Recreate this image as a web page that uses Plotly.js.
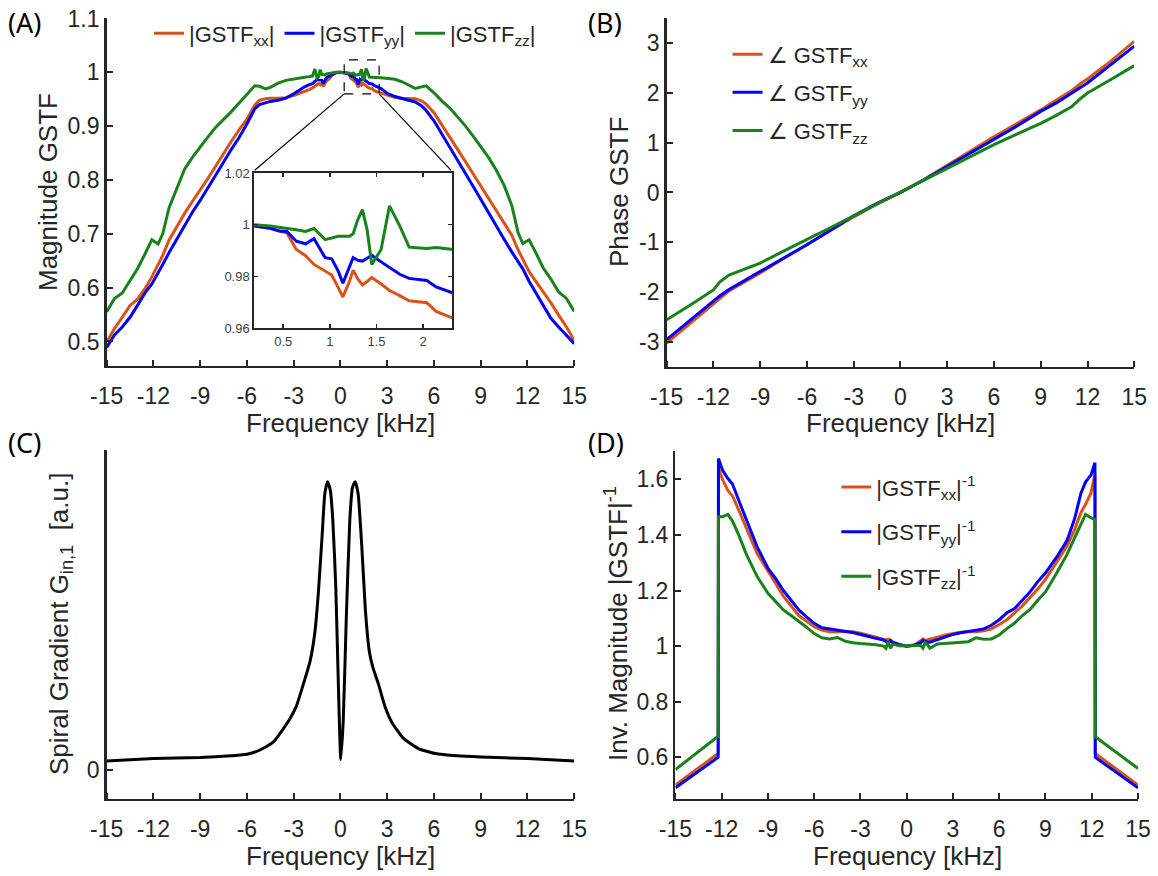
<!DOCTYPE html>
<html>
<head>
<meta charset="utf-8">
<script src="https://cdn.plot.ly/plotly-3.0.1.min.js"></script>
<style>html,body{margin:0;padding:0;background:#fff;}#chart{width:1158px;height:876px;}</style>
</head>
<body>
<div id="chart"></div>
<script>
// ---------- Panel A: |GSTF| magnitude (also used for the inset) ----------
const freqA = [-15,-14.5,-14,-13.5,-13,-12.5,-12.1,-11.7,-11.4,-11,-10.5,-10,-9.5,-9,-8.5,-8,-7.5,-7,-6.5,-6,-5.5,-5.2,-4.8,-4.5,-4,-3.5,-3,-2.6,-2.3,-2.0,-1.8,-1.64,-1.5,-1.4,-1.3,-1.2,-1.1,-1.0,-0.9,-0.7,-0.5,-0.3,
  0,0.19,0.36,0.46,0.54,0.64,0.74,0.83,0.95,1.02,1.09,1.14,1.21,1.25,1.3,1.35,1.4,1.45,1.55,1.64,1.75,1.85,2.04,2.14,2.3,2.6,3.0,3.5,4.0,4.5,4.8,5.2,5.5,6.0,6.5,7.0,7.5,8.0,8.5,9.0,9.5,10.0,10.5,11.0,11.4,11.7,12.1,12.5,13.0,13.5,14.0,14.5,15.0];
const magXX = [0.499,0.524,0.545,0.567,0.579,0.600,0.620,0.642,0.660,0.688,0.714,0.738,0.760,0.781,0.803,0.826,0.850,0.872,0.893,0.913,0.939,0.948,0.951,0.952,0.952,0.953,0.957,0.961,0.964,0.968,0.971,0.974,0.977,0.979,0.977,0.980,0.974,0.980,0.984,0.988,0.996,0.999,
  1.0,0.9995,0.9985,0.9975,0.9968,0.9904,0.988,0.9846,0.982,0.9805,0.9756,0.972,0.978,0.9824,0.979,0.9767,0.978,0.9795,0.977,0.9745,0.9725,0.9705,0.9698,0.9664,0.9641,0.961,0.957,0.953,0.952,0.952,0.951,0.947,0.941,0.925,0.903,0.881,0.859,0.835,0.812,0.789,0.766,0.744,0.721,0.697,0.670,0.652,0.630,0.613,0.593,0.572,0.549,0.527,0.502];
const magYY = [0.489,0.512,0.527,0.545,0.568,0.592,0.607,0.627,0.643,0.665,0.690,0.716,0.740,0.762,0.785,0.809,0.833,0.857,0.879,0.904,0.932,0.940,0.944,0.946,0.948,0.952,0.960,0.968,0.973,0.977,0.979,0.983,0.987,0.986,0.986,0.985,0.979,0.986,0.990,0.993,0.997,0.9995,
  1.0,0.9995,0.9987,0.9975,0.9974,0.9936,0.9926,0.9946,0.9872,0.9868,0.982,0.9773,0.984,0.9872,0.9862,0.9859,0.987,0.9881,0.9856,0.9835,0.9808,0.9792,0.9784,0.9759,0.974,0.970,0.961,0.955,0.951,0.947,0.945,0.938,0.929,0.910,0.886,0.862,0.839,0.815,0.789,0.764,0.739,0.713,0.690,0.666,0.648,0.635,0.612,0.592,0.567,0.543,0.527,0.512,0.496];
const magZZ = [0.555,0.580,0.590,0.612,0.636,0.665,0.689,0.681,0.700,0.748,0.785,0.820,0.842,0.862,0.880,0.898,0.912,0.927,0.943,0.960,0.975,0.974,0.969,0.972,0.980,0.985,0.988,0.990,0.991,0.992,0.993,1.006,0.990,0.992,1.005,0.996,0.995,0.995,0.997,0.998,0.999,1.0,
  1.0,1.0,0.9995,0.999,0.9987,0.998,0.9974,0.9985,0.9942,0.995,0.9955,0.9955,0.9955,0.9965,1.002,1.0058,0.998,0.9846,0.9904,1.0073,0.9995,0.9913,0.9908,0.9912,0.9905,0.990,0.989,0.987,0.982,0.975,0.970,0.973,0.975,0.962,0.947,0.934,0.918,0.901,0.882,0.862,0.842,0.818,0.790,0.752,0.702,0.682,0.689,0.667,0.637,0.616,0.592,0.580,0.556];

// ---------- Panel B: phase ----------
const freqB = [-15,-13.5,-12,-11.6,-11,-10,-9,-7.5,-6,-4.5,-3,-1.5,0,1.5,3,4.5,6,7.5,9,10,11,11.6,12,13.5,15];
const phaseXX = [-3.03,-2.63,-2.24,-2.13,-1.98,-1.80,-1.62,-1.33,-1.05,-0.77,-0.49,-0.23,0,0.26,0.55,0.84,1.12,1.39,1.66,1.86,2.05,2.20,2.28,2.64,3.04];
const phaseYY = [-2.96,-2.58,-2.19,-2.08,-1.95,-1.77,-1.59,-1.32,-1.05,-0.76,-0.47,-0.22,0,0.25,0.52,0.79,1.06,1.34,1.63,1.80,2.00,2.13,2.20,2.57,2.94];
const phaseZZ = [-2.56,-2.27,-1.96,-1.80,-1.66,-1.54,-1.42,-1.18,-0.95,-0.71,-0.47,-0.23,0,0.24,0.49,0.72,0.96,1.18,1.39,1.55,1.73,1.90,2.00,2.27,2.55];

// ---------- Panel C: spiral gradient spectrum ----------
const freqC = [-15,-12,-9,-7,-6,-5.2,-4.3,-3.3,-2.84,-2.37,-1.94,-1.65,-1.42,-1.18,-1.0,-0.83,-0.65,-0.49,-0.3,-0.13,0.02,0.18,0.37,0.6,0.77,0.94,1.13,1.37,1.6,1.84,2.07,2.43,2.86,3.34,4.05,5.0,6.07,7.5,9,12,15];
const gradC = [0.032,0.040,0.044,0.050,0.055,0.069,0.098,0.173,0.22,0.30,0.38,0.474,0.613,0.81,0.96,1.0,0.97,0.867,0.636,0.289,0.037,0.173,0.52,0.867,0.98,1.0,0.96,0.775,0.555,0.416,0.358,0.30,0.22,0.162,0.11,0.075,0.058,0.050,0.046,0.040,0.032];

// ---------- Panel D: inverse magnitude ----------
const freqD = [-15,-12.23,-12.21,-11.95,-11.6,-11.3,-10.9,-10.4,-9.7,-9,-8.5,-8,-7.5,-7,-6.5,-6,-5.5,-5,-4.5,-4,-3.5,-3,-2.5,-2,-1.5,-1.35,-1.2,-1.05,-0.9,-0.5,0,0.5,0.9,1.05,1.2,1.35,1.5,2,2.5,3,3.5,4,4.5,5,5.5,6,6.5,7,7.5,8,8.5,9,9.7,10.4,10.9,11.3,11.6,11.95,12.21,12.23,15];
const invXX = [0.50,0.614,1.64,1.60,1.56,1.54,1.49,1.425,1.333,1.27,1.225,1.18,1.145,1.11,1.09,1.07,1.058,1.052,1.052,1.052,1.052,1.046,1.04,1.032,1.024,1.022,1.025,1.022,1.015,1.006,1.0,1.004,1.019,1.026,1.02,1.022,1.024,1.032,1.04,1.046,1.05,1.052,1.052,1.055,1.062,1.078,1.095,1.12,1.145,1.175,1.205,1.24,1.30,1.36,1.42,1.48,1.51,1.55,1.62,0.614,0.50];
const invYY = [0.49,0.60,1.675,1.633,1.603,1.583,1.525,1.453,1.357,1.28,1.243,1.20,1.165,1.13,1.105,1.082,1.066,1.062,1.057,1.053,1.049,1.042,1.034,1.028,1.022,1.018,1.012,1.02,1.012,1.006,1.0,1.004,1.012,1.02,1.016,1.014,1.014,1.024,1.032,1.042,1.048,1.052,1.056,1.062,1.075,1.095,1.12,1.135,1.165,1.195,1.232,1.263,1.318,1.38,1.46,1.55,1.59,1.615,1.66,0.60,0.49];
const invZZ = [0.556,0.676,1.465,1.465,1.474,1.45,1.40,1.33,1.25,1.19,1.16,1.13,1.11,1.09,1.068,1.045,1.03,1.026,1.031,1.018,1.012,1.009,1.007,1.005,1.0,0.992,1.016,0.992,1.007,1.001,1.0,1.001,1.003,0.993,1.012,1.005,0.992,1.008,1.01,1.011,1.013,1.016,1.03,1.025,1.026,1.04,1.063,1.083,1.11,1.132,1.165,1.195,1.26,1.33,1.39,1.44,1.474,1.462,1.455,0.674,0.56];

// ---------- tick labels ----------
const freqTicks = [-15,-12,-9,-6,-3,0,3,6,9,12,15];
const freqTickText = ['-15','-12','-9','-6','-3','0','3','6','9','12','15'];
const magTicks = [0.5,0.6,0.7,0.8,0.9,1,1.1];
const magTickText = ['0.5','0.6','0.7','0.8','0.9','1','1.1'];
const phaseTicks = [-3,-2,-1,0,1,2,3];
const phaseTickText = ['-3','-2','-1','0','1','2','3'];
const invTicks = [0.6,0.8,1,1.2,1.4,1.6];
const invTickText = ['0.6','0.8','1','1.2','1.4','1.6'];
const insetXTicks = [0.5,1,1.5,2];
const insetXText = ['0.5','1','1.5','2'];
const insetYTicks = [0.96,0.98,1,1.02];
const insetYText = ['0.96','0.98','1','1.02'];

// ---------- styling ----------
const cXX = '#D95319', cYY = '#0000FF', cZZ = '#1A821A';
const AX = '#262626';
const FONT = 'Liberation Sans, Arial, sans-serif';
const LW = 3;
const W = 1158, H = 876;

function ln(x, y, color, name, xa, ya, opts) {
  return Object.assign({type:'scatter', mode:'lines', x:x, y:y, name:name, xaxis:xa, yaxis:ya,
    line:{color:color, width:LW}, hoverinfo:'skip'}, opts||{});
}

const traces = [
  ln(freqA, magXX, cXX, '|GSTF<sub>xx</sub>|', 'x', 'y', {legend:'legend'}),
  ln(freqA, magYY, cYY, '|GSTF<sub>yy</sub>|', 'x', 'y', {legend:'legend'}),
  ln(freqA, magZZ, cZZ, '|GSTF<sub>zz</sub>|', 'x', 'y', {legend:'legend'}),
  ln(freqB, phaseXX, cXX, '\u2220 GSTF<sub>xx</sub>', 'x2', 'y2', {legend:'legend2', legendgroup:'b1'}),
  ln(freqB, phaseYY, cYY, '\u2220 GSTF<sub>yy</sub>', 'x2', 'y2', {legend:'legend2', legendgroup:'b2'}),
  ln(freqB, phaseZZ, cZZ, '\u2220 GSTF<sub>zz</sub>', 'x2', 'y2', {legend:'legend2', legendgroup:'b3'}),
  ln(freqC, gradC, '#000000', 'G', 'x3', 'y3', {showlegend:false, line:{color:'#000', width:LW, shape:'spline', smoothing:0.5}}),
  ln(freqD, invXX, cXX, '|GSTF<sub>xx</sub>|<sup>-1</sup>', 'x4', 'y4', {legend:'legend3', legendgroup:'d1'}),
  ln(freqD, invYY, cYY, '|GSTF<sub>yy</sub>|<sup>-1</sup>', 'x4', 'y4', {legend:'legend3', legendgroup:'d2'}),
  ln(freqD, invZZ, cZZ, '|GSTF<sub>zz</sub>|<sup>-1</sup>', 'x4', 'y4', {legend:'legend3', legendgroup:'d3'}),
  ln(freqA, magXX, cXX, 'ix', 'x5', 'y5', {showlegend:false}),
  ln(freqA, magYY, cYY, 'iy', 'x5', 'y5', {showlegend:false}),
  ln(freqA, magZZ, cZZ, 'iz', 'x5', 'y5', {showlegend:false})
];

// x axes: invisible outside ticks push the labels down; visible inward ticks come from "minor"
function xAxis(domain, anchor) {
  return {domain:domain, anchor:anchor, range:[-15,15], showgrid:false, zeroline:false,
    showline:true, linecolor:AX, linewidth:2.5, ticks:'outside', ticklen:8, tickwidth:1, tickcolor:'rgba(0,0,0,0)',
    tickvals:freqTicks, ticktext:freqTickText, tickfont:{family:FONT, size:23, color:AX},
    minor:{tickmode:'array', tickvals:freqTicks, ticks:'inside', ticklen:6, tickwidth:2, tickcolor:AX, showgrid:false}};
}
function yAxis(domain, anchor, range, ticks, text) {
  return {domain:domain, anchor:anchor, range:range, showgrid:false, zeroline:false,
    showline:true, linecolor:AX, linewidth:2.5, ticks:'inside', ticklen:6, tickwidth:2, tickcolor:AX,
    tickvals:ticks, ticktext:text, tickfont:{family:FONT, size:23, color:AX}};
}
function insetAxis(domain, anchor, range, ticks, text) {
  return {domain:domain, anchor:anchor, range:range, showgrid:false, zeroline:false,
    showline:true, mirror:'ticks', linecolor:AX, linewidth:2, ticks:'inside', ticklen:4, tickwidth:1.5, tickcolor:AX,
    tickvals:ticks, ticktext:text, tickfont:{family:FONT, size:13, color:'#404040'}};
}
function title(text, xpx, ypx, angle) {
  return {text:text, xref:'paper', yref:'paper', x:xpx/W, y:1-ypx/H, xanchor:'center', yanchor:'middle',
    textangle:angle||0, showarrow:false, font:{family:FONT, size:26, color:AX}};
}
function plabel(text, xpx, ypx) {
  return {text:text, xref:'paper', yref:'paper', x:xpx/W, y:1-ypx/H, xanchor:'left', yanchor:'middle',
    showarrow:false, font:{family:'Noto Sans, Open Sans, sans-serif', size:27, color:'#000'}};
}
const legFont = {family:FONT, size:22, color:AX};

const layout = {
  width:W, height:H, margin:{l:0,r:0,t:0,b:0},
  paper_bgcolor:'#ffffff', plot_bgcolor:'#ffffff',
  font:{family:FONT, color:AX},
  hovermode:false,
  xaxis: xAxis([0.0921,0.4959], 'y'),
  yaxis: yAxis([0.5822,0.9789], 'x', [0.4545,1.1], magTicks, magTickText),
  xaxis2: xAxis([0.5757,0.9795], 'y2'),
  yaxis2: yAxis([0.5816,0.979], 'x2', [-3.5,3.5], phaseTicks, phaseTickText),
  xaxis3: xAxis([0.0921,0.4959], 'y3'),
  yaxis3: yAxis([0.0879,0.4863], 'x3', [-0.1,1.11], [0], ['0']),
  xaxis4: xAxis([0.5833,0.9827], 'y4'),
  yaxis4: yAxis([0.0879,0.4855], 'x4', [0.45,1.703], invTicks, invTickText),
  xaxis5: insetAxis([0.2196,0.3903], 'y5', [0.19,2.31], insetXTicks, insetXText),
  yaxis5: insetAxis([0.6256,0.8025], 'x5', [0.96,1.02], insetYTicks, insetYText),
  legend: {orientation:'h', x:0.1287, xanchor:'left', y:0.9618, yanchor:'middle', bgcolor:'rgba(0,0,0,0)',
    font:legFont, borderwidth:0, itemwidth:30},
  legend2: {orientation:'v', x:0.6283, xanchor:'left', y:0.9618, yanchor:'top', bgcolor:'rgba(0,0,0,0)',
    font:legFont, borderwidth:0, tracegroupgap:6.5, itemwidth:30},
  legend3: {orientation:'v', x:0.7222, xanchor:'left', y:0.4677, yanchor:'top', bgcolor:'rgba(0,0,0,0)',
    font:legFont, borderwidth:0, tracegroupgap:13, itemwidth:30},
  shapes: [
    {type:'rect', xref:'x', yref:'y', x0:0.24, x1:2.48, y0:0.96, y1:1.023, line:{color:'#000', width:1.2, dash:'dash'}, layer:'above'},
    {type:'line', xref:'x', yref:'y', x0:0.24, y0:0.96, x1:-5.5, y1:0.818, line:{color:'#000', width:1.2}, layer:'above'},
    {type:'line', xref:'x', yref:'y', x0:2.48, y0:0.96, x1:7.1, y1:0.818, line:{color:'#000', width:1.2}, layer:'above'}
  ],
  annotations: [
    plabel('(A)', 6, 22), plabel('(B)', 586, 22), plabel('(C)', 6, 442), plabel('(D)', 586, 442),
    title('Frequency [kHz]', 340.5, 423), title('Frequency [kHz]', 900.5, 423),
    title('Frequency [kHz]', 340.5, 856), title('Frequency [kHz]', 907, 856),
    title('Magnitude GSTF', 48, 192, -90), title('Phase GSTF', 619, 192, -90),
    title('Spiral Gradient G<sub>in,1</sub>  [a.u.]', 60, 624, -90),
    title('Inv. Magnitude |GSTF|<sup>-1</sup>', 616, 624, -90)
  ]
};

Plotly.newPlot('chart', traces, layout, {displayModeBar:false, staticPlot:true});
</script>
</body>
</html>
